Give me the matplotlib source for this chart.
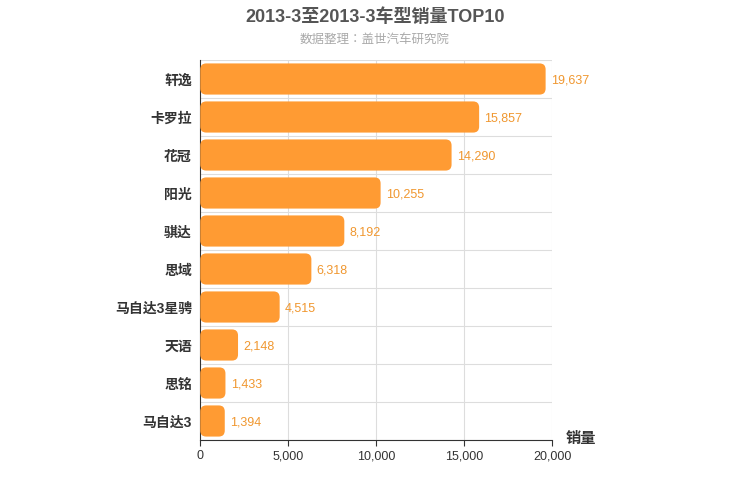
import matplotlib.pyplot as plt
from matplotlib import font_manager
from matplotlib.patches import FancyBboxPatch

# pick a CJK sans font that is really installed
fam = None
for f in font_manager.findSystemFonts():
    if 'CJK' not in f:
        continue
    try:
        font_manager.fontManager.addfont(f)
        name = font_manager.FontProperties(fname=f).get_name()
    except Exception:
        continue
    if 'Sans' in name and 'CJK' in name:
        if fam is None or 'SC' in name:
            fam = name
plt.rcParams['font.family'] = ['Liberation Sans'] + ([fam] if fam else [])

models = ['轩逸', '卡罗拉', '花冠', '阳光', '骐达', '思域', '马自达3星骋', '天语', '思铭', '马自达3']
sales = [19637, 15857, 14290, 10255, 8192, 6318, 4515, 2148, 1433, 1394]
xticks = [0, 5000, 10000, 15000, 20000]

fig = plt.figure(figsize=(7.5, 5), dpi=100)
ax = fig.add_axes([0.267, 0.12, 0.469, 0.76])

n = len(models)
ypos = list(range(n))[::-1]
bh = 0.82
xpp = 20000 / 352.0
ypp = n / 380.0
for y, v in zip(ypos, sales):
    p = FancyBboxPatch((0, y - bh / 2), v, bh,
                       boxstyle='round,pad=0,rounding_size=%f' % (6 * xpp),
                       mutation_aspect=ypp / xpp,
                       facecolor='#ff9b33', edgecolor='none', zorder=3)
    ax.add_patch(p)
    ax.text(v + 300, y - 0.05, f'{v:,}', va='center', ha='left', fontsize=9,
            color='#f0972f', zorder=4)

ax.set_xlim(0, 20000)
ax.set_ylim(-0.5, n - 0.5)
ax.set_xticks(xticks)
ax.set_xticklabels([f'{t:,}' for t in xticks], fontsize=9, color='#333333')
ax.set_yticks(ypos)
ax.set_yticklabels(models, fontsize=10, color='#333333', fontweight='bold')
for x in xticks[1:]:
    ax.axvline(x, color='#dddddd', lw=0.8, zorder=1)
for k in range(n + 1):
    ax.axhline(k - 0.5, color='#dddddd', lw=0.8, zorder=1)
for s in ['top', 'right']:
    ax.spines[s].set_visible(False)
ax.spines['left'].set_color('#333333')
ax.spines['bottom'].set_color('#333333')
ax.tick_params(axis='y', length=0, pad=6)
ax.tick_params(axis='x', length=4, color='#333333')

fig.text(0.5, 0.965, '2013-3至2013-3车型销量TOP10', ha='center', va='center',
         fontsize=13, fontweight='bold', color='#555555')
fig.text(0.5, 0.92, '数据整理：盖世汽车研究院', ha='center', va='center',
         fontsize=9, color='#aaaaaa')
fig.text(0.775, 0.122, '销量', ha='center', va='center', fontsize=11,
         fontweight='bold', color='#333333')

fig.savefig('out.png')
